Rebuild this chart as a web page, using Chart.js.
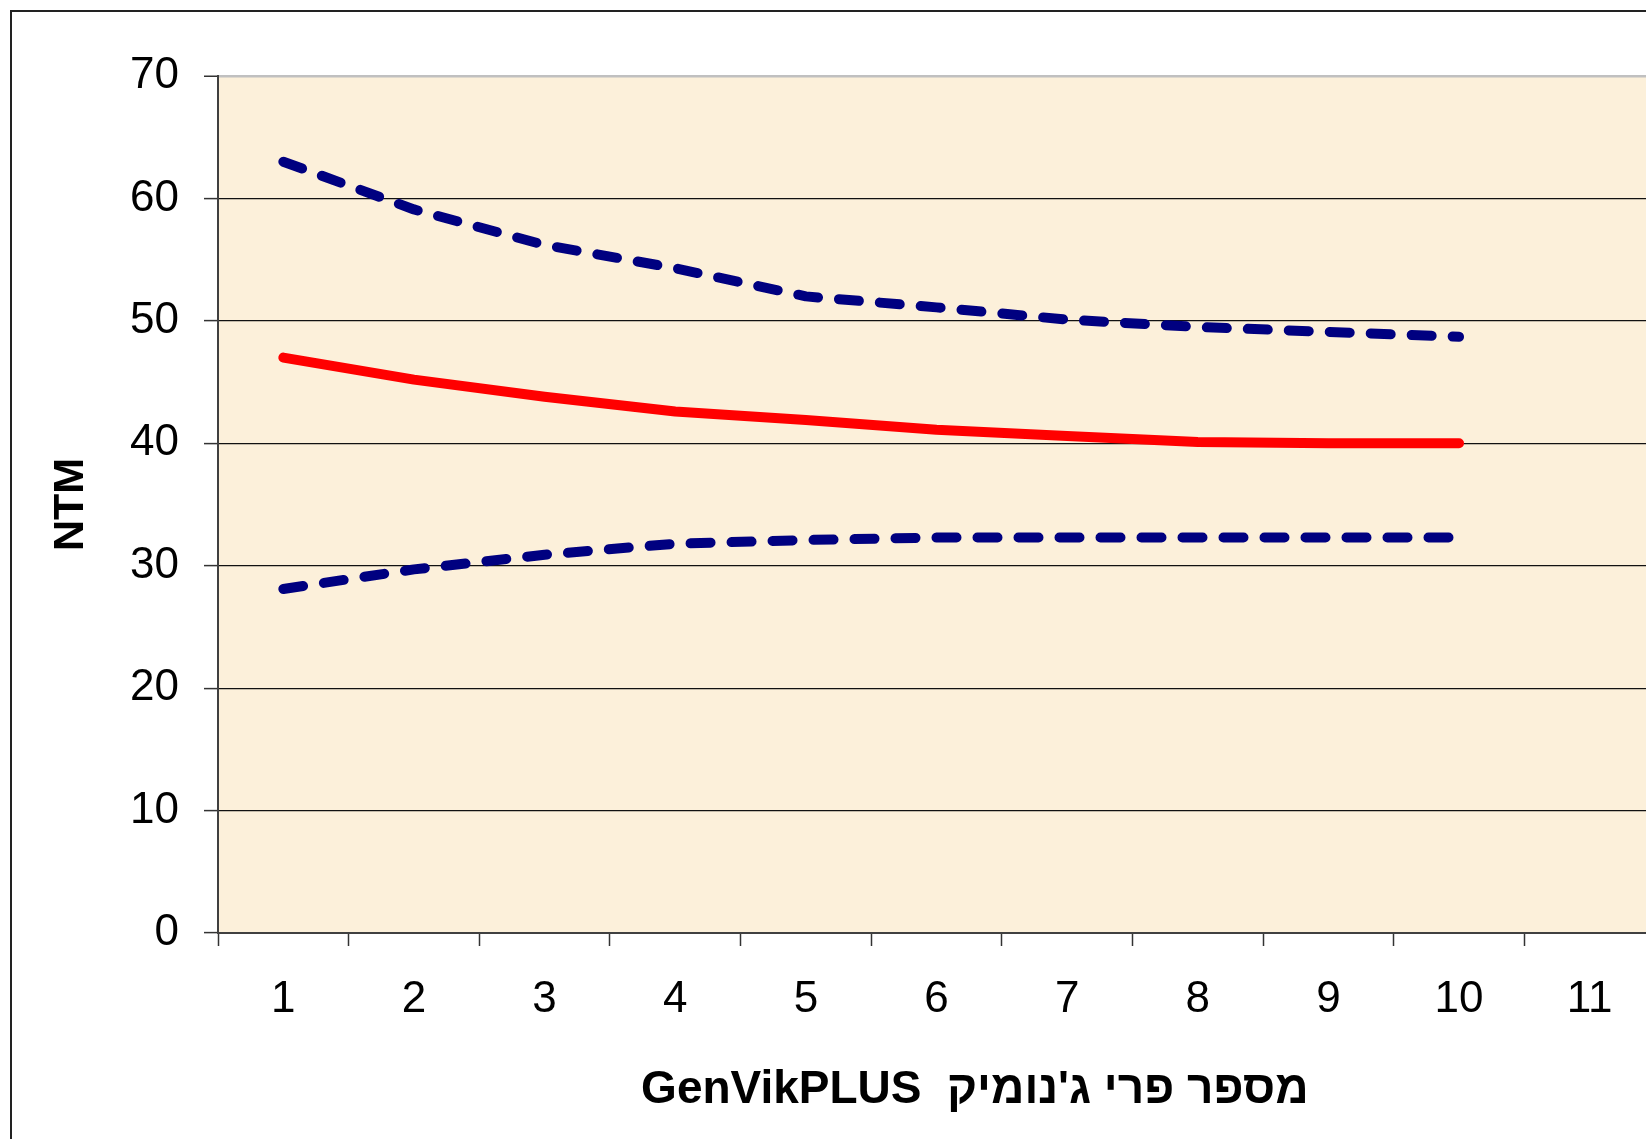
<!DOCTYPE html>
<html>
<head>
<meta charset="utf-8">
<script src="https://cdn.jsdelivr.net/npm/chart.js@4/dist/chart.umd.min.js"></script>
<style>
  html, body { margin: 0; padding: 0; background: #ffffff; overflow: hidden; width: 1646px; height: 1139px; }
  #frame { position: absolute; left: 10px; top: 10px; width: 1800px; height: 1300px; border: 2px solid #222; box-sizing: border-box; background: #fff; }
  #c { position: absolute; left: 0; top: 0; }
</style>
</head>
<body>
<div id="frame"></div>
<canvas id="c" width="1700" height="1200"></canvas>
<script>
// ---- data ----
const categories = ['1', '2', '3', '4', '5', '6', '7', '8', '9', '10', '11'];
const upperBound = [63.0, 59.1, 56.2, 54.3, 52.0, 51.1, 50.1, 49.5, 49.1, 48.7];
const meanLine   = [47.0, 45.2, 43.8, 42.6, 41.9, 41.1, 40.6, 40.1, 40.0, 40.0];
const lowerBound = [28.1, 29.7, 30.9, 31.8, 32.1, 32.3, 32.3, 32.3, 32.3, 32.3];
const yTicks = [0, 10, 20, 30, 40, 50, 60, 70];
const xTitle = '\u00A0\u00A0\u00A0\u00A0\u00A0\u00A0GenVikPLUS  מספר פרי ג\'נומיק';
const yTitle = 'NTM';

const plotBg = {
  id: 'plotBg',
  beforeDraw(chart) {
    const a = chart.chartArea;
    const ctx = chart.ctx;
    ctx.save();
    ctx.fillStyle = '#fcf0da';
    ctx.fillRect(a.left, a.top, a.right - a.left, a.bottom - a.top);
    ctx.restore();
  }
};

const FONT = "'Liberation Sans', Arial, sans-serif";

new Chart(document.getElementById('c'), {
  type: 'line',
  data: {
    labels: categories,
    datasets: [
      { label: 'upper', data: upperBound, borderColor: '#000080', borderWidth: 10,
        borderDash: [20, 21], borderCapStyle: 'round', borderJoinStyle: 'round',
        pointRadius: 0, tension: 0, fill: false },
      { label: 'mean', data: meanLine, borderColor: '#ff0000', borderWidth: 10,
        borderCapStyle: 'round', borderJoinStyle: 'round',
        pointRadius: 0, tension: 0, fill: false },
      { label: 'lower', data: lowerBound, borderColor: '#000080', borderWidth: 10,
        borderDash: [20, 21], borderCapStyle: 'round', borderJoinStyle: 'round',
        pointRadius: 0, tension: 0, fill: false }
    ]
  },
  options: {
    responsive: false,
    animation: false,
    events: [],
    layout: { padding: { left: 0, top: 76, right: 45, bottom: 0 } },
    plugins: { legend: { display: false }, tooltip: { enabled: false }, title: { display: false } },
    scales: {
      x: {
        type: 'category',
        offset: true,
        afterFit(s) { s.height = 267; },
        grid: { display: true, drawOnChartArea: false, drawTicks: true, offset: true,
                tickLength: 13, tickColor: '#333', tickWidth: 1.5 },
        border: { display: true, color: '#404040', width: 2 },
        ticks: { color: '#000', padding: 27, maxRotation: 0, autoSkip: false,
                 font: { family: FONT, size: 44 } },
        title: { display: true, text: xTitle, color: '#000',
                 padding: { top: 0, bottom: 82 },
                 font: { family: FONT, size: 46, weight: 'bold' } }
      },
      y: {
        min: 0, max: 70,
        afterFit(s) { s.width = 218; },
        afterBuildTicks(s) { s.ticks = yTicks.map(v => ({ value: v })); },
        grid: {
          display: true, drawTicks: true, tickLength: 14,
          color: ctx => (ctx.tick && ctx.tick.value === 70) ? '#c0c0c0' : '#111',
          lineWidth: ctx => (ctx.tick && ctx.tick.value === 70) ? 2.5 : 1.2,
          tickColor: '#333', tickWidth: 1.5
        },
        border: { display: true, color: '#404040', width: 2 },
        ticks: { color: '#000', padding: 25, font: { family: FONT, size: 44 } },
        title: { display: true, text: yTitle, color: '#000',
                 padding: { top: 45, bottom: 0 },
                 font: { family: FONT, size: 43, weight: 'bold' } }
      }
    }
  },
  plugins: [plotBg]
});
</script>
</body>
</html>
